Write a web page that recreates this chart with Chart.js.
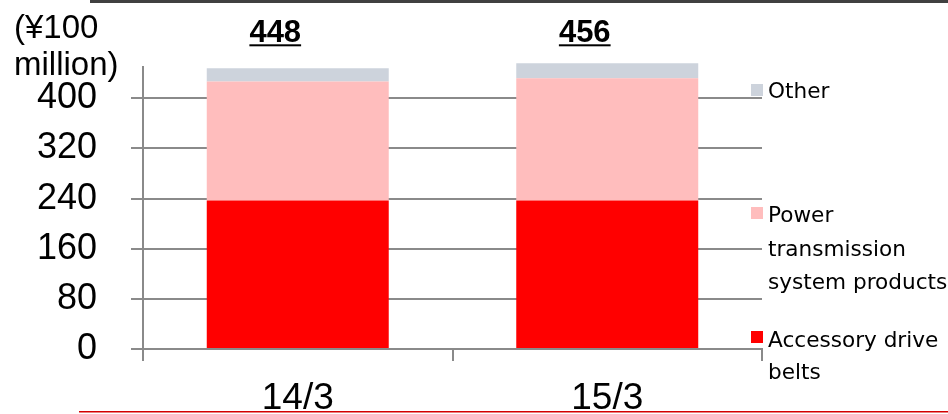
<!DOCTYPE html>
<html>
<head>
<meta charset="utf-8">
<script src="https://cdn.jsdelivr.net/npm/chart.js@4/dist/chart.umd.min.js"></script>
<style>
  html, body { margin: 0; padding: 0; background: #fff; }
  #wrap { position: relative; width: 948px; height: 414px; }
</style>
</head>
<body>
<div id="wrap"><canvas id="c" width="948" height="414"></canvas></div>
<script>
// Fiscal years (March year-end)
const categories = ['14/3', '15/3'];
// Sales by product line, ¥100 million
const accessoryBelts = [237, 237];
const powerTransmission = [190, 195];
const other = [21, 24];
const totals = [448, 456];
const yTicks = [0, 80, 160, 240, 320, 400];
const unitLines = ['(¥100', 'million)'];

const legendItems = [
  { lines: ['Other'], color: '#cdd3dc' },
  { lines: ['Power', 'transmission', 'system products'], color: '#ffbdbd' },
  { lines: ['Accessory drive', 'belts'], color: '#ff0000' }
];

const GRID = '#8a8a8a';

const decor = {
  id: 'decor',
  afterDraw(chart) {
    const ctx = chart.ctx;
    const xs = chart.scales.x;
    ctx.save();
    // frame rules
    ctx.fillStyle = '#404040';
    ctx.fillRect(90, 0, 858, 3);
    ctx.fillStyle = '#d40000';
    ctx.fillRect(79, 411, 869, 1.5);

    // unit caption
    ctx.fillStyle = '#000';
    ctx.textAlign = 'left';
    ctx.textBaseline = 'alphabetic';
    ctx.font = '33px "Liberation Sans", Arial, sans-serif';
    ctx.fillText(unitLines[0], 14, 38);
    ctx.fillText(unitLines[1], 14, 75);

    // totals, underlined
    ctx.font = 'bold 31px "Liberation Sans", Arial, sans-serif';
    ctx.textAlign = 'center';
    totals.forEach((t, i) => {
      const cx = xs.getPixelForValue(i) - 22.5;
      const s = String(t);
      const w = ctx.measureText(s).width;
      ctx.fillText(s, cx, 41.5);
      ctx.fillRect(cx - w / 2, 44.3, w, 2);
    });

    // legend
    ctx.textAlign = 'left';
    ctx.font = '21.6px "DejaVu Sans", sans-serif';
    const firstBase = [98, 222, 347];
    const boxTop = [84, 207, 331];
    const lh = [33.5, 33.5, 32];
    legendItems.forEach((it, k) => {
      ctx.fillStyle = it.color;
      ctx.fillRect(751, boxTop[k], 12, 12);
      ctx.fillStyle = '#000';
      it.lines.forEach((ln, j) => ctx.fillText(ln, 768, firstBase[k] + j * lh[k]));
    });
    ctx.restore();
  }
};

new Chart(document.getElementById('c'), {
  type: 'bar',
  data: {
    labels: categories,
    datasets: [
      { label: 'Accessory drive belts', data: accessoryBelts, backgroundColor: '#ff0000', clip: false },
      { label: 'Power transmission system products', data: powerTransmission, backgroundColor: '#ffbdbd', clip: false },
      { label: 'Other', data: other, backgroundColor: '#cdd3dc', clip: false }
    ]
  },
  options: {
    responsive: false,
    animation: false,
    events: [],
    layout: { padding: { top: 67, right: 186, left: 0, bottom: 0 } },
    datasets: { bar: { categoryPercentage: 1, barPercentage: 0.588 } },
    plugins: { legend: { display: false }, tooltip: { enabled: false } },
    scales: {
      x: {
        stacked: true,
        afterFit(s) { s.height = 65; },
        grid: { display: true, offset: true, drawOnChartArea: false, color: GRID, lineWidth: 2, tickLength: 12 },
        border: { display: true, color: GRID, width: 2 },
        ticks: { color: '#000', padding: 16, font: { family: '"Liberation Sans", Arial, sans-serif', size: 37 } }
      },
      y: {
        stacked: true,
        min: 0,
        max: 450,
        afterFit(s) { s.width = 143; },
        afterBuildTicks(s) { s.ticks = yTicks.map(v => ({ value: v })); },
        grid: { color: GRID, lineWidth: 2, tickLength: 12 },
        border: { display: true, color: GRID, width: 2 },
        ticks: { color: '#000', padding: 34, font: { family: '"Liberation Sans", Arial, sans-serif', size: 36 } }
      }
    }
  },
  plugins: [decor]
});
</script>
</body>
</html>
